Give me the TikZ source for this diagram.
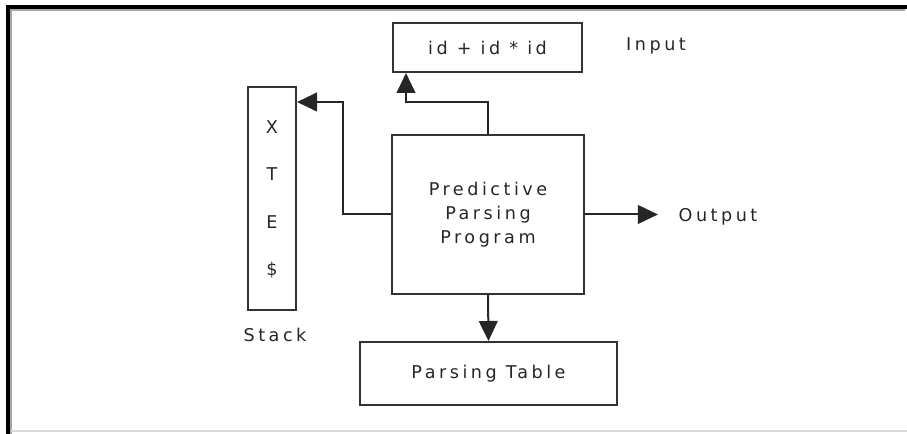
\documentclass[tikz,border=0pt]{standalone}
\usepackage{fontspec}
\setmainfont{DejaVu Sans}
\usepackage{tikz}
\usetikzlibrary{arrows.meta}

\begin{document}
\begin{tikzpicture}[x=0.75pt,y=-0.75pt,
	every node/.style={font=\addfontfeature{LetterSpace=20}\fontsize{13.2}{18}\selectfont, text=black!85},
	blk/.style={draw=black!80, line width=1.5pt, inner sep=0pt},
	arr/.style={draw=black!85, line width=1.5pt, -{Triangle[length=15pt,width=14pt]}}]
	\useasboundingbox (0,0) rectangle (907,434);
	
	% frame round the page
	\draw[line width=3pt] (8,434) -- (8,7) -- (907,7);
	\draw[black!35, line width=1pt] (11,434) -- (11,10) -- (905,10);
	\draw[black!15, line width=1pt] (11,431) -- (907,431);
	
	% boxes
	\node[blk, minimum width=189*0.75pt, minimum height=49*0.75pt] (input) at (487.5,47.5) {id + id * id};
	\node[blk, minimum width=192*0.75pt, minimum height=159*0.75pt, align=center] (prog) at (488,214.5)
		{Predictive\\Parsing\\Program};
	\node[blk, minimum width=257*0.75pt, minimum height=63*0.75pt] (table) at (488.5,373.5) {Parsing Table};
	\node[blk, minimum width=48*0.75pt, minimum height=223*0.75pt] (stack) at (272,198.5) {};
	
	% stack contents
	\foreach \n/\s/\y in {sx/X/127, st/T/174, se/E/222, sd/\$/270}{
		\node (\n) at (272,\y) {\s};
	}
	
	% labels
	\node (inlbl) at (656,46) {Input};
	\node (stlbl) at (275,335) {Stack};
	\node (outlbl) at (718,217) {Output};
	
	\coordinate (inpt) at ([xshift=14*0.75pt]input.south west);
	\coordinate (stpt) at ([yshift=-16*0.75pt]stack.north east);
	\coordinate (outpt) at ([xshift=-16*0.75pt]outlbl.west);
	
	\draw[arr] (prog.north) -- ++(0,-32) -| (inpt);
	\draw[arr] (prog.west) -- ++(-48,0) |- (stpt);
	\draw[arr] (prog.east) -- (prog.east -| outpt);
	\draw[arr] (prog.south) -- (table.north);
\end{tikzpicture}
\end{document}
